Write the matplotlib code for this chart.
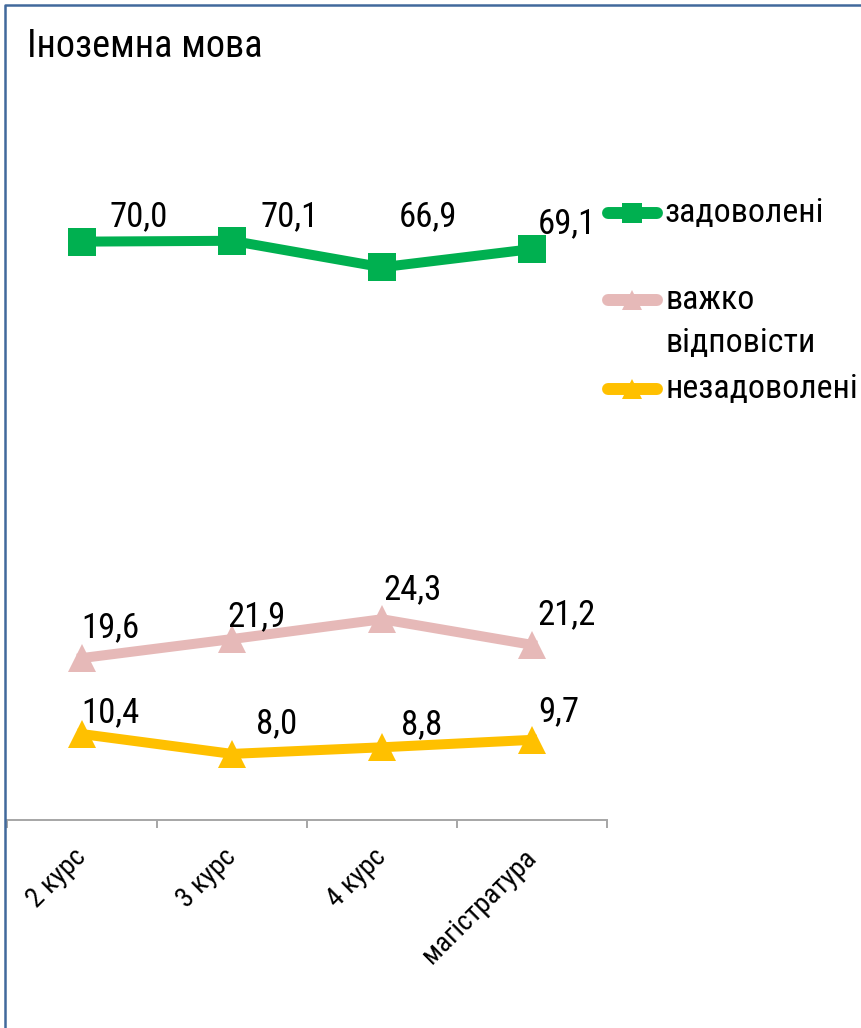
import matplotlib
matplotlib.use("Agg")
import matplotlib.pyplot as plt
from matplotlib.lines import Line2D

plt.rcParams['font.family'] = ['Roboto Condensed', 'Liberation Sans', 'DejaVu Sans']

# data
categories = ["2 курс", "3 курс", "4 курс", "магістратура"]
satisfied = [70.0, 70.1, 66.9, 69.1]
hard_to_say = [19.6, 21.9, 24.3, 21.2]
unsatisfied = [10.4, 8.0, 8.8, 9.7]
series_names = ["задоволені", "важко\nвідповісти", "незадоволені"]

# styles
colors = ["#00b050", "#e6b9b8", "#ffc000"]
markers = ["s", "^", "^"]
marker_sizes = [19.5, 20.5, 20.5]
# label offsets in pixels (dx, dy)
label_offsets = [
    [(57, 25), (58, 24), (46, 51), (35, 25)],
    [(28, 30), (24, 22), (30, 30), (35, 30)],
    [(28, 21), (45, 30), (40, 23), (27, 28)],
]

W, H = 861, 1028
fig = plt.figure(figsize=(W / 100, H / 100), dpi=100)
ax = fig.add_axes([7 / W, 1 - 820 / H, 600 / W, (820 - 159) / H])

x = list(range(len(categories)))
all_series = [satisfied, hard_to_say, unsatisfied]
for vals, col, mk, ms, offs in zip(all_series, colors, markers, marker_sizes, label_offsets):
    ax.plot(x, vals, color=col, lw=7.2, marker=mk, ms=ms, mew=0, clip_on=False, zorder=3)
    for xi, v, (dx, dy) in zip(x, vals, offs):
        ax.annotate(f"{v:.1f}".replace(".", ","), (xi, v), xytext=(dx, dy),
                    textcoords="offset pixels", ha="center", va="center",
                    fontsize=25, color="black", zorder=4)

ax.set_xlim(-0.5, len(categories) - 0.5)
ax.set_ylim(0, 80)
ax.set_yticks([])
for s in ["top", "right", "left"]:
    ax.spines[s].set_visible(False)
ax.spines["bottom"].set_color("#a6a6a6")
ax.spines["bottom"].set_linewidth(1.4)

ax.set_xticks([i - 0.5 for i in range(len(categories) + 1)])
ax.set_xticklabels([])
ax.tick_params(axis="x", which="major", direction="out", length=5.8, width=1.4, color="#a6a6a6")
ax.set_xticks(x, categories, minor=True)
ax.tick_params(axis="x", which="minor", length=0, pad=24, labelsize=20)
for lbl in ax.get_xticklabels(minor=True):
    lbl.set_rotation(45)
    lbl.set_ha("right")
    lbl.set_va("center")
    lbl.set_rotation_mode("anchor")

# title
fig.text(27 / W, 1 - 57 / H, "Іноземна мова", fontsize=27.5, va="baseline", ha="left")

# legend drawn by hand
legend_y = [213, 300, 389]
for name, col, mk, ly in zip(series_names, colors, markers, legend_y):
    fy = 1 - ly / H
    fig.add_artist(Line2D([608 / W, 657 / W], [fy, fy], color=col, lw=8.6,
                          solid_capstyle="round", transform=fig.transFigure))
    fig.add_artist(Line2D([632 / W], [fy], color=col, marker=mk, ms=15, mew=0,
                          transform=fig.transFigure))
    for k, line in enumerate(name.split("\n")):
        fig.text(665 / W, 1 - (ly + 43 * k) / H, line, fontsize=24.5, va="center", ha="left")

# frame around the picture
fig.add_artist(Line2D([5 / W, 5 / W, 1], [0, 1 - 5 / H, 1 - 5 / H], color="#41699c",
                      lw=1.8, transform=fig.transFigure))

fig.savefig("out.png", dpi=100)
